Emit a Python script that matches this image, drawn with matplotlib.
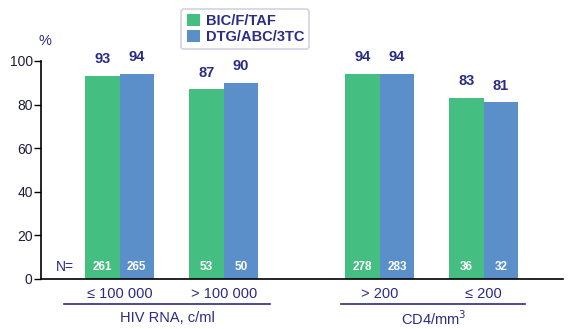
import numpy as np
import matplotlib
matplotlib.use('Agg')
import matplotlib.pyplot as plt
from matplotlib.patches import Patch
from matplotlib.lines import Line2D

plt.rcParams['font.family'] = ['Liberation Sans', 'DejaVu Sans']

# Data
categories = ['≤ 100 000', '> 100 000', '> 200', '≤ 200']
groups = ['HIV RNA, c/ml', 'CD4/mm$^3$']
series = ['BIC/F/TAF', 'DTG/ABC/3TC']
bic_pct = [93, 87, 94, 83]
dtg_pct = [94, 90, 94, 81]
bic_n = [261, 53, 278, 36]
dtg_n = [265, 50, 283, 32]

green = '#45BE82'
blue = '#5B8FC9'
navy = '#2A2C85'

pos = np.array([0, 1, 2.5, 3.5])
w = 0.33

fig = plt.figure(figsize=(5.71, 3.29), dpi=100)
ax = fig.add_axes([0.0718, 0.152, 0.914, 0.6626])

b1 = ax.bar(pos - w / 2, bic_pct, w, color=green)
b2 = ax.bar(pos + w / 2, dtg_pct, w, color=blue)

for bars, vals, ns in [(b1, bic_pct, bic_n), (b2, dtg_pct, dtg_n)]:
    for bar, v, n in zip(bars, vals, ns):
        cx = bar.get_x() + bar.get_width() / 2
        ax.text(cx, v + 4.5, str(v), ha='center', va='bottom', fontsize=10.5,
                fontweight='bold', color=navy, clip_on=False)
        ax.text(cx, 5.5, str(n), ha='center', va='center', fontsize=8.5,
                fontweight='bold', color='white')

ax.text(-0.53, 5.5, 'N=', ha='center', va='center', fontsize=10, color=navy)

ax.set_xlim(-0.755, 4.26)
ax.set_ylim(0, 100)
ax.set_yticks(np.arange(0, 101, 20))
ax.tick_params(axis='y', direction='out', length=5, width=1, labelsize=10,
               labelcolor='#1E1E3C', pad=1)
ax.set_xticks([])
for s in ['top', 'right']:
    ax.spines[s].set_visible(False)
ax.spines['left'].set_linewidth(1.2)
ax.spines['bottom'].set_linewidth(1.2)
ax.text(-0.72, 106, '%', ha='center', va='bottom', fontsize=10.5, color=navy,
        clip_on=False)

# category labels and group labels below the axis
trans = ax.get_xaxis_transform()
for p, c in zip(pos, categories):
    ax.text(p, -0.068, c, ha='center', va='center', fontsize=10.5, color=navy,
            transform=trans, clip_on=False)
for (x0, x1), g in zip([(-0.53, 1.45), (2.13, 3.9)], groups):
    ax.add_line(Line2D([x0, x1], [-0.115, -0.115], color=navy, lw=1.2,
                       transform=trans, clip_on=False))
    ax.text((x0 + x1) / 2, -0.18, g, ha='center', va='center', fontsize=10.5,
            color=navy, transform=trans, clip_on=False)

handles = [Patch(facecolor=green, label=series[0]),
           Patch(facecolor=blue, label=series[1])]
leg = fig.legend(handles=handles, loc='upper left', bbox_to_anchor=(0.305, 0.995),
                 frameon=True, fancybox=True, shadow=False,
                 handlelength=0.9, handleheight=0.9, handletextpad=0.4,
                 labelspacing=0.15, borderpad=0.35,
                 prop={'weight': 'bold', 'size': 10.5})
leg.get_frame().set_edgecolor('#C8C8DC')
leg.get_frame().set_linewidth(1.2)
for t in leg.get_texts():
    t.set_color(navy)

fig.savefig('out.png', dpi=100)
